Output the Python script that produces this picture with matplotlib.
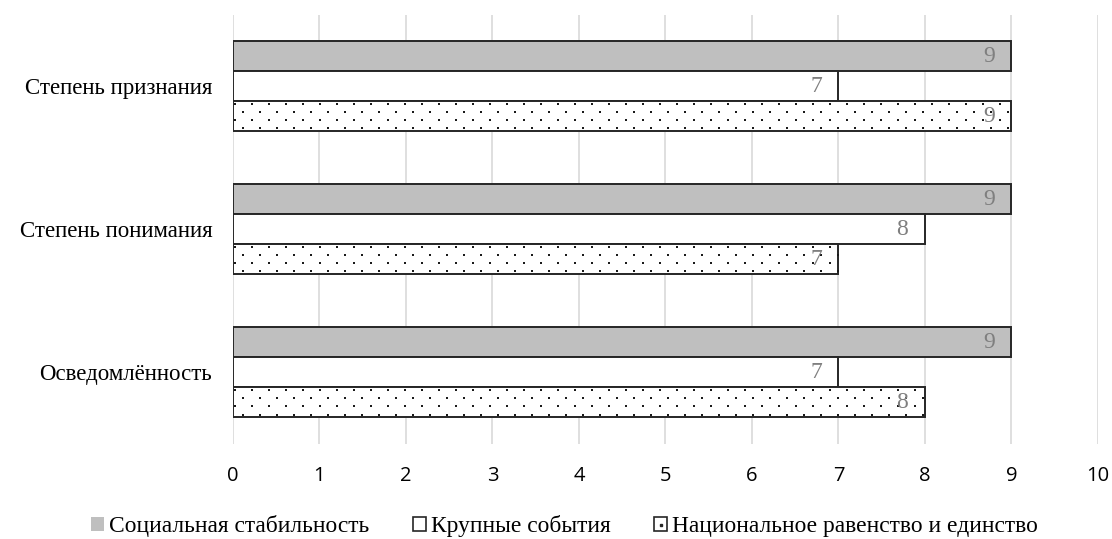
import numpy as np
import matplotlib.pyplot as plt
from matplotlib.patches import Rectangle
from matplotlib.lines import Line2D

categories = ['Осведомлённость', 'Степень понимания', 'Степень признания']
series_names = ['Социальная стабильность', 'Крупные события',
                'Национальное равенство и единство']
social = [9, 9, 9]
events = [7, 8, 7]
equality = [8, 7, 9]

fig = plt.figure(figsize=(11.12, 5.39), dpi=100)
ax = fig.add_axes([0.2095, 0.177, 0.7779, 0.796])
ax.set_xlim(0, 10)
ax.set_ylim(-0.5, 2.5)

y = np.arange(len(categories))
h = 0.21
edge = '#262626'

b1 = ax.barh(y + h, social, height=h, color='#bfbfbf', edgecolor=edge, linewidth=1.4,
             label=series_names[0], zorder=3)
b2 = ax.barh(y, events, height=h, color='white', edgecolor=edge, linewidth=1.4,
             label=series_names[1], zorder=3)
b3 = ax.barh(y - h, equality, height=h, color='white', edgecolor=edge, linewidth=1.4,
             label=series_names[2], zorder=3)

# dot pattern for the third series (offset rows, like the office pattern)
px_x = ax.transData.transform((1, 0))[0] - ax.transData.transform((0, 0))[0]
px_y = ax.transData.transform((0, 1))[1] - ax.transData.transform((0, 0))[1]
step_x = 17 / px_x
step_y = 8.3 / px_y
for bar in b3:
    x0, y0 = bar.get_x(), bar.get_y()
    w, hh = bar.get_width(), bar.get_height()
    xs, ys = [], []
    for i, yy in enumerate(np.arange(y0 + hh - 2.5 / px_y, y0, -step_y)):
        shift = 0 if i % 2 == 0 else step_x / 2
        for xx in np.arange(x0 + 2 / px_x + shift, x0 + w, step_x):
            xs.append(xx)
            ys.append(yy)
    sc = ax.scatter(xs, ys, s=2.2, marker='s', color='#1a1a1a', linewidths=0, zorder=3.5)
    sc.set_clip_path(bar)

for bars, vals in zip([b1, b2, b3], [social, events, equality]):
    for b, v in zip(bars, vals):
        ax.text(v - 0.26, b.get_y() + b.get_height() / 2, str(v), ha='center', va='center',
                fontsize=17, color='#7f7f7f', family='Liberation Serif', zorder=4)

ax.set_xticks(range(11))
ax.set_yticks(y)
ax.set_yticklabels(categories, family='Liberation Serif', fontsize=16.5)
ax.tick_params(axis='x', labelsize=14.5, length=0, pad=16, colors='#000000')
ax.tick_params(axis='y', length=0, pad=15)
for lab in ax.get_xticklabels():
    lab.set_family('Open Sans')
ax.grid(axis='x', color='#d9d9d9', linewidth=1.2, zorder=0)
for s in ax.spines.values():
    s.set_visible(False)

# legend handles
h1 = Rectangle((0, 0), 1, 1, facecolor='#bfbfbf', edgecolor='none')
h2 = Rectangle((0, 0), 1, 1, facecolor='white', edgecolor=edge, linewidth=1.2)
h3 = (Rectangle((0, 0), 1, 1, facecolor='white', edgecolor=edge, linewidth=1.2),
      Line2D([], [], marker='s', markersize=2, color=edge, linestyle='none'))
leg = fig.legend([h1, h2, h3], series_names, loc='lower center', bbox_to_anchor=(0.508, -0.036),
                 ncol=3, frameon=False, prop={'family': 'Liberation Serif', 'size': 16.9},
                 handlelength=0.55, handleheight=0.5, handletextpad=0.22, columnspacing=1.85)

fig.savefig('out.png', dpi=100)
